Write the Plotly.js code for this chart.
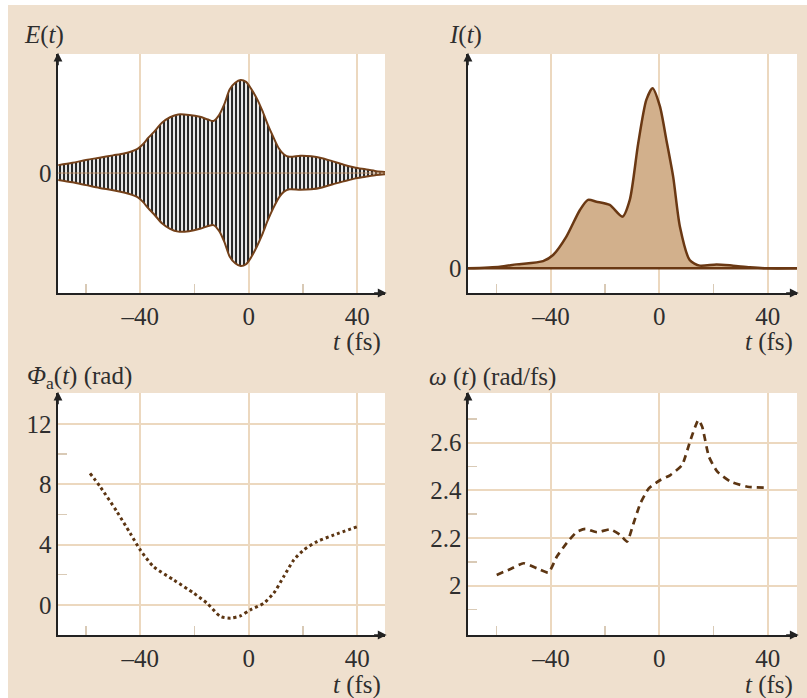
<!DOCTYPE html>
<html>
<head>
<meta charset="utf-8">
<script src="https://cdn.plot.ly/plotly-3.0.1.min.js"></script>
<style>
html,body{margin:0;padding:0;background:#ffffff;}
#chart{position:absolute;left:8px;top:5px;width:799px;height:693px;}
</style>
</head>
<body>
<div id="chart"></div>
<script>
// ---- Data ----
// E(t) envelope (upper and lower), t in fs
var envT  = [-70.2,-65,-60,-55,-50,-46,-43,-41,-39,-37,-35,-32,-29,-26,-22,-18,-15,-13,-11,-9,-7,-5,-3,-1,1,3,5,7,9,11,13,15,19,23,27,31,35,39,43,47,50.3];
var envUp = [0.085,0.11,0.14,0.165,0.19,0.21,0.235,0.26,0.31,0.38,0.44,0.54,0.6,0.63,0.625,0.605,0.575,0.56,0.62,0.74,0.9,0.97,1.0,0.98,0.9,0.8,0.67,0.52,0.39,0.27,0.2,0.175,0.185,0.18,0.16,0.125,0.09,0.06,0.04,0.02,0.012];
var envLo = [-0.075,-0.1,-0.13,-0.16,-0.185,-0.21,-0.235,-0.26,-0.31,-0.38,-0.44,-0.54,-0.6,-0.63,-0.625,-0.6,-0.57,-0.56,-0.62,-0.74,-0.9,-0.97,-1.0,-0.98,-0.9,-0.79,-0.66,-0.51,-0.38,-0.27,-0.2,-0.175,-0.18,-0.175,-0.155,-0.12,-0.09,-0.06,-0.04,-0.02,-0.012];

// I(t) intensity
var intT = [-70.6,-58.8,-52.7,-42.9,-39.2,-34.3,-29.3,-26.3,-23.2,-18.3,-13.6,-10.9,-7.8,-4.8,-2.5,0.2,2.6,5.1,7.6,11.2,14.9,21.1,27.2,33.4,39.5,50.8];
var intV = [0,0.009,0.022,0.04,0.074,0.176,0.324,0.38,0.37,0.352,0.287,0.38,0.694,0.935,1.0,0.9,0.713,0.509,0.231,0.046,0.015,0.022,0.015,0.006,0,0];

// Phi_a(t) in rad
var phiT = [-58.5,-54.8,-48.6,-43.7,-40,-35.1,-27.7,-20.3,-15.4,-10.4,-6.7,-3.1,0.6,5.5,9.2,12.9,16.6,20.3,25.2,31.4,40];
var phiV = [8.73,7.85,6.19,4.75,3.65,2.54,1.66,0.78,0.11,-0.77,-0.88,-0.73,-0.33,0.11,0.78,1.88,2.98,3.65,4.2,4.64,5.19];

// omega(t) in rad/fs
var omT = [-60,-55.1,-50.1,-45.2,-40.9,-37.8,-34.1,-30.4,-27.3,-23,-18.1,-14.4,-11.9,-9.5,-7,-3.9,0.4,4.1,8.4,11.5,14.4,15.8,18.3,21.4,26.3,32.5,39.9];
var omV = [2.045,2.069,2.094,2.073,2.055,2.122,2.18,2.226,2.238,2.224,2.236,2.213,2.185,2.262,2.345,2.408,2.443,2.464,2.506,2.611,2.695,2.667,2.541,2.478,2.436,2.415,2.411];

// Tick labels
var xTickVals = [-40, 0, 40];
var xTickText = ['\u201340', '0', '40'];
var xMinorVals = [-60, -20, 20];
var phiTickVals = [0, 4, 8, 12];
var phiMinorVals = [2, 6, 10];
var omTickVals = [2, 2.2, 2.4, 2.6];
var omTickText = ['2', '2.2', '2.4', '2.6'];
var omMinorVals = [1.9, 2.1, 2.3, 2.5, 2.7];

// ---- Styling ----
var BROWN = '#74411a';
var GRID = '#ecd8bf';
var AXIS = '#222222';
var MINOR = '#d9cab6';
var FONT = {family: 'Liberation Serif, Times New Roman, serif', size: 25, color: '#2e2e2e'};

var traces = [
  {x: envT, y: envLo, xaxis: 'x', yaxis: 'y', mode: 'lines', line: {color: BROWN, width: 2, shape: 'spline', smoothing: 0.8}, hoverinfo: 'skip'},
  {x: envT, y: envUp, xaxis: 'x', yaxis: 'y', mode: 'lines', fill: 'tonexty',
   fillcolor: 'rgba(200,200,200,0.4)',
   fillpattern: {shape: '|', size: 4, solidity: 0.45, fgcolor: '#111111', bgcolor: 'rgba(200,200,200,0.4)'},
   line: {color: BROWN, width: 2, shape: 'spline', smoothing: 0.8}, hoverinfo: 'skip'},
  {x: intT, y: intV, xaxis: 'x2', yaxis: 'y2', mode: 'lines', fill: 'tozeroy', fillcolor: '#d2b08c',
   line: {color: '#6a3813', width: 2.5, shape: 'spline', smoothing: 0.7}, hoverinfo: 'skip'},
  {x: phiT, y: phiV, xaxis: 'x3', yaxis: 'y3', mode: 'lines',
   line: {color: '#5c3512', width: 3, dash: '3px,3px', shape: 'spline', smoothing: 0.7}, hoverinfo: 'skip'},
  {x: omT, y: omV, xaxis: 'x4', yaxis: 'y4', mode: 'lines',
   line: {color: '#5c3512', width: 2.7, dash: '7px,5px', shape: 'spline', smoothing: 0.5}, hoverinfo: 'skip'}
];

function xAxis(domain, range, anchor) {
  return {
    domain: domain, range: range, anchor: anchor,
    tickmode: 'array', tickvals: xTickVals, ticktext: xTickText, ticks: '',
    showgrid: true, gridcolor: GRID, gridwidth: 2, zeroline: false,
    showline: true, linecolor: AXIS, linewidth: 1.6,
    tickfont: FONT, fixedrange: true,
    minor: {tickmode: 'array', tickvals: xMinorVals, ticks: 'inside', ticklen: 9, tickcolor: MINOR, tickwidth: 1.5, showgrid: false}
  };
}

var xL = [0.0626, 0.4718], xR = [0.5757, 0.9875];
var yT = [0.5844, 0.9293], yB = [0.0909, 0.4401];

var layout = {
  width: 799, height: 693,
  margin: {l: 0, r: 0, t: 0, b: 0},
  paper_bgcolor: '#efe0ce',
  plot_bgcolor: '#ffffff',
  showlegend: false,
  font: FONT,
  xaxis: xAxis(xL, [-70.3, 50.2], 'y'),
  yaxis: {domain: yT, range: [-1.29, 1.28], anchor: 'x', tickmode: 'array', tickvals: [0], ticktext: ['0'], ticks: '',
          showgrid: false, zeroline: false, showline: true, linecolor: AXIS, linewidth: 1.6, tickfont: FONT, fixedrange: true},
  xaxis2: xAxis(xR, [-70.6, 50.8], 'y2'),
  yaxis2: {domain: yT, range: [-0.137, 1.19], anchor: 'x2', tickmode: 'array', tickvals: [0], ticktext: ['0'], ticks: '',
          showgrid: false, zeroline: false, showline: true, linecolor: AXIS, linewidth: 1.6, tickfont: FONT, fixedrange: true},
  xaxis3: xAxis(xL, [-70.3, 50.2], 'y3'),
  yaxis3: {domain: yB, range: [-2.0, 14.06], anchor: 'x3', tickmode: 'array', tickvals: phiTickVals, ticks: '',
          showgrid: true, gridcolor: GRID, gridwidth: 2, zeroline: false, showline: true, linecolor: AXIS, linewidth: 1.6,
          tickfont: FONT, fixedrange: true,
          minor: {tickmode: 'array', tickvals: phiMinorVals, ticks: 'inside', ticklen: 9, tickcolor: MINOR, tickwidth: 1.5, showgrid: false}},
  xaxis4: xAxis(xR, [-70.6, 50.8], 'y4'),
  yaxis4: {domain: yB, range: [1.793, 2.808], anchor: 'x4', tickmode: 'array', tickvals: omTickVals, ticktext: omTickText, ticks: '',
          showgrid: true, gridcolor: GRID, gridwidth: 2, zeroline: false, showline: true, linecolor: AXIS, linewidth: 1.6,
          tickfont: FONT, fixedrange: true,
          minor: {tickmode: 'array', tickvals: omMinorVals, ticks: 'inside', ticklen: 9, tickcolor: MINOR, tickwidth: 1.5, showgrid: false}},
  shapes: [
    {type: 'line', xref: 'x domain', yref: 'y', x0: 0, x1: 1, y0: 0, y1: 0, layer: 'above', line: {color: 'rgba(190,140,95,0.85)', width: 1}},
    {type: 'line', xref: 'x2 domain', yref: 'y2', x0: 0, x1: 1, y0: 0, y1: 0, layer: 'above', line: {color: '#6a3813', width: 2.5}}
  ],
  annotations: []
};

// axis arrows
['', '2', '3', '4'].forEach(function (s) {
  layout.annotations.push({xref: 'x' + s + ' domain', yref: 'y' + s + ' domain', x: 1.005, y: 0, ax: -14, ay: 0,
    showarrow: true, arrowhead: 2, arrowsize: 1.1, arrowwidth: 1.6, arrowcolor: AXIS, text: '', standoff: 0});
  layout.annotations.push({xref: 'x' + s + ' domain', yref: 'y' + s + ' domain', x: 0, y: 1.005, ax: 0, ay: 14,
    showarrow: true, arrowhead: 2, arrowsize: 1.1, arrowwidth: 1.6, arrowcolor: AXIS, text: '', standoff: 0});
});

// titles
function label(txt, x, y, xa) {
  layout.annotations.push({xref: 'paper', yref: 'paper', x: x, y: y, xanchor: xa, yanchor: 'middle',
    text: txt, showarrow: false, font: FONT});
}
label('<i>E</i>(<i>t</i>)', 0.0175, 0.9567, 'left');
label('<i>I</i>(<i>t</i>)', 0.5494, 0.9567, 'left');
label('<i>Φ</i><sub>a</sub>(<i>t</i>) (rad)', 0.0212, 0.4632, 'left');
label('<i>ω</i> (<i>t</i>) (rad/fs)', 0.5244, 0.4632, 'left');
label('<i>t</i> (fs)', 0.4693, 0.5137, 'right');
label('<i>t</i> (fs)', 0.985, 0.5137, 'right');
label('<i>t</i> (fs)', 0.4693, 0.0188, 'right');
label('<i>t</i> (fs)', 0.985, 0.0188, 'right');

Plotly.newPlot('chart', traces, layout, {displayModeBar: false, staticPlot: true});
</script>
</body>
</html>
